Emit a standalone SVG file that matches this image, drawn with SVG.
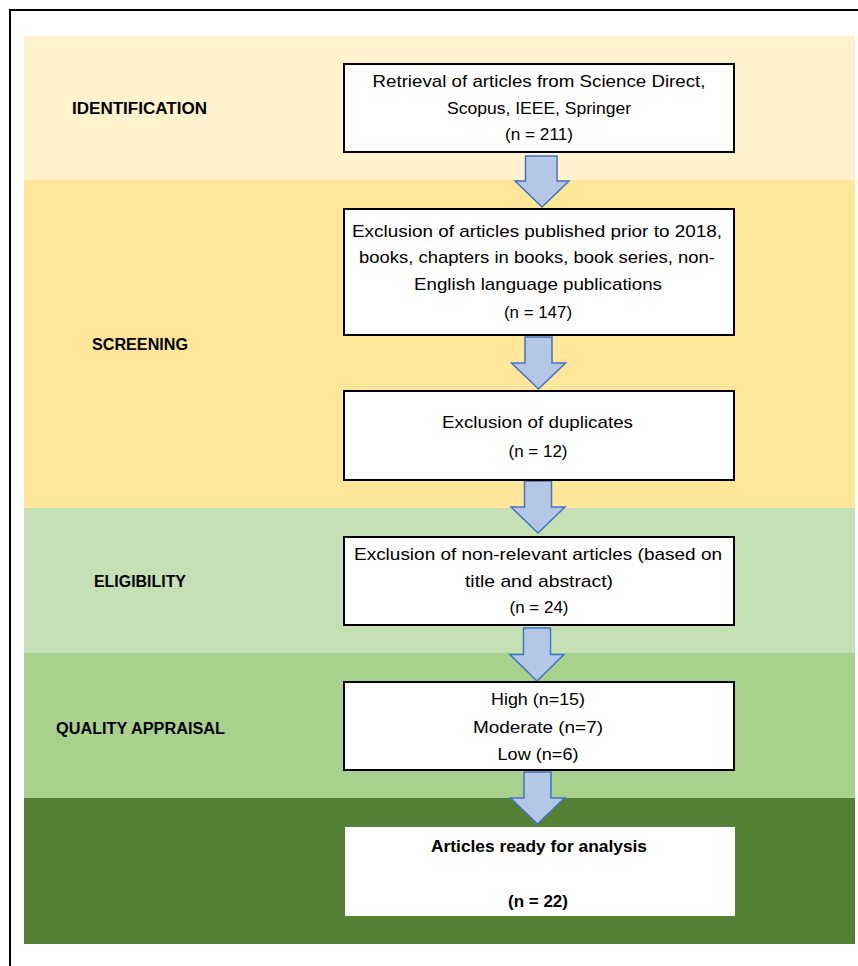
<svg xmlns="http://www.w3.org/2000/svg" width="858" height="966" viewBox="0 0 858 966">
<style>
.frame{stroke:#000;stroke-width:2;fill:none}
.box{fill:#fff;stroke:#000;stroke-width:2}
.arrow{fill:#B4C7E7;stroke:#4472C4;stroke-width:1.5;stroke-linejoin:miter}
.lbl{font-family:"Liberation Sans",Arial,sans-serif;font-weight:bold;font-size:16px;fill:#000}
.t{font-family:"Liberation Sans",Arial,sans-serif;font-size:17px;fill:#000;text-anchor:middle}
.tb{font-family:"Liberation Sans",Arial,sans-serif;font-weight:bold;font-size:16.5px;fill:#000;text-anchor:middle}
</style>
<defs>
<path id="arr" class="arrow" d="M-13.5,0 H13.5 V26 H27 L0,52 L-27,26 H-13.5 Z"/>
</defs>
<rect width="858" height="966" fill="#fff"/>
<path class="frame" d="M10,966 V10 H858"/>
<g id="bands">
<rect x="24" y="36" width="831" height="144" fill="#FFF2CC"/>
<rect x="24" y="180" width="831" height="328" fill="#FFE699"/>
<rect x="24" y="508" width="831" height="145" fill="#C5E0B4"/>
<rect x="24" y="653" width="831" height="145" fill="#A9D18E"/>
<rect x="24" y="798" width="831" height="146" fill="#548235"/>
</g>
<g id="stage-labels">
<text class="lbl" x="72" y="114" textLength="135" lengthAdjust="spacingAndGlyphs">IDENTIFICATION</text>
<text class="lbl" x="92" y="350" textLength="96" lengthAdjust="spacingAndGlyphs">SCREENING</text>
<text class="lbl" x="94" y="587" textLength="92" lengthAdjust="spacingAndGlyphs">ELIGIBILITY</text>
<text class="lbl" x="56" y="734" textLength="169" lengthAdjust="spacingAndGlyphs">QUALITY APPRAISAL</text>
</g>
<g id="connectors">
<path class="arrow" d="M525.5,156 H557 V181 H569 L542,207 L515,181 H525.5 Z"/>
<use href="#arr" transform="translate(538.5,337)"/>
<use href="#arr" transform="translate(538,481)"/>
<use href="#arr" transform="translate(537,628) scale(1,1.02)"/>
<use href="#arr" transform="translate(537.5,772)"/>
</g>
<g id="node-retrieval">
<rect class="box" x="344" y="64" width="390" height="88"/>
<text class="t" x="539" y="87" textLength="333" lengthAdjust="spacingAndGlyphs">Retrieval of articles from Science Direct,</text>
<text class="t" x="539" y="114" textLength="184" lengthAdjust="spacingAndGlyphs">Scopus, IEEE, Springer</text>
<text class="t" x="539" y="140" textLength="68" lengthAdjust="spacingAndGlyphs">(n = 211)</text>
</g>
<g id="node-exclusion-date">
<rect class="box" x="344" y="209" width="390" height="126"/>
<text class="t" x="537" y="237" textLength="370" lengthAdjust="spacingAndGlyphs">Exclusion of articles published prior to 2018,</text>
<text class="t" x="537" y="263" textLength="356" lengthAdjust="spacingAndGlyphs">books, chapters in books, book series, non-</text>
<text class="t" x="538" y="290" textLength="248" lengthAdjust="spacingAndGlyphs">English language publications</text>
<text class="t" x="538" y="318" textLength="68" lengthAdjust="spacingAndGlyphs">(n = 147)</text>
</g>
<g id="node-duplicates">
<rect class="box" x="344" y="391" width="390" height="89"/>
<text class="t" x="537.5" y="428" textLength="191" lengthAdjust="spacingAndGlyphs">Exclusion of duplicates</text>
<text class="t" x="538" y="457" textLength="59" lengthAdjust="spacingAndGlyphs">(n = 12)</text>
</g>
<g id="node-nonrelevant">
<rect class="box" x="344" y="537" width="390" height="88"/>
<text class="t" x="538" y="560" textLength="368" lengthAdjust="spacingAndGlyphs">Exclusion of non-relevant articles (based on</text>
<text class="t" x="539" y="587" textLength="148" lengthAdjust="spacingAndGlyphs">title and abstract)</text>
<text class="t" x="539" y="613" textLength="59" lengthAdjust="spacingAndGlyphs">(n = 24)</text>
</g>
<g id="node-quality">
<rect class="box" x="344" y="682" width="390" height="88"/>
<text class="t" x="538" y="705" textLength="94" lengthAdjust="spacingAndGlyphs">High (n=15)</text>
<text class="t" x="538" y="733" textLength="130" lengthAdjust="spacingAndGlyphs">Moderate (n=7)</text>
<text class="t" x="538" y="760" textLength="81" lengthAdjust="spacingAndGlyphs">Low (n=6)</text>
</g>
<g id="node-ready">
<rect x="345" y="827" width="390" height="89" fill="#fff"/>
<text class="tb" x="539" y="852" textLength="216" lengthAdjust="spacingAndGlyphs">Articles ready for analysis</text>
<text class="tb" x="538" y="907" textLength="60" lengthAdjust="spacingAndGlyphs">(n = 22)</text>
</g>
</svg>
